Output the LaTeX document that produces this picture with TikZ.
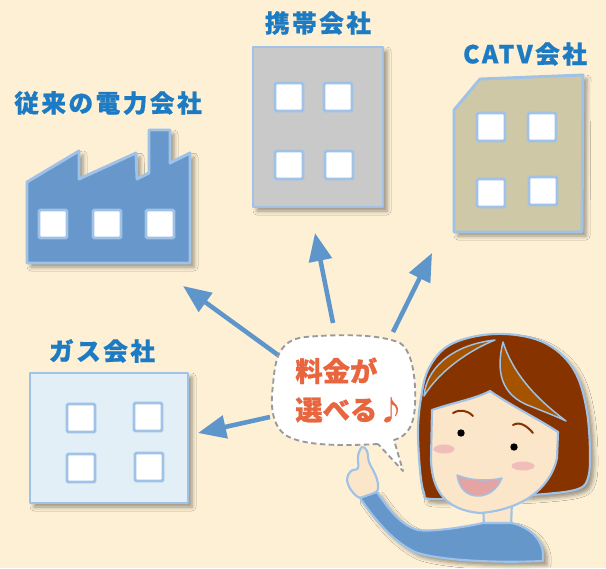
\documentclass[tikz,border=0pt]{standalone}
\usepackage{xcolor}
\usepackage{fontspec}
\newfontfamily\jpfont{Noto Sans CJK JP}[FakeBold=0.8]
\usetikzlibrary{arrows.meta,shadows.blur}
\definecolor{bgCream}{HTML}{FDF0D5}
\definecolor{nameBlue}{HTML}{1C7BC2}
\definecolor{edgeBlue}{HTML}{9FC2E6}
\definecolor{factoryBlue}{HTML}{6797CB}
\definecolor{mobileGray}{HTML}{C9C9C9}
\definecolor{catvKhaki}{HTML}{CFC8A7}
\definecolor{gasBlue}{HTML}{E2EFF6}
\definecolor{arrowBlue}{HTML}{5E96CB}
\definecolor{sloganRed}{HTML}{E8663F}
\definecolor{dashGray}{HTML}{9A9A9A}
\definecolor{hairBrown}{HTML}{873300}
\definecolor{hairLight}{HTML}{A65300}
\definecolor{skinTone}{HTML}{FBE6C9}
\definecolor{cheekPink}{HTML}{F0BDBA}
\definecolor{mouthPink}{HTML}{E4A4A3}
\definecolor{shirtBlue}{HTML}{6697CB}
\tikzset{
  softshadow/.style={
    blur shadow={shadow xshift=3pt, shadow yshift=-3pt,
      shadow blur radius=3pt, shadow opacity=40}
  },
  compname/.style={
    font=\jpfont\bfseries\fontsize{18.5}{20}\selectfont\addfontfeature{LetterSpace=10},
    text=nameBlue,
    inner sep=0pt
  },
  bldg/.style={draw=edgeBlue, line width=2.2pt, line join=round, softshadow},
  win/.style={
    rectangle,
    draw=edgeBlue,
    fill=white,
    line width=2.2pt,
    rounded corners=1pt,
    minimum size=21pt,
    inner sep=0pt
  },
  arrow/.style={-{Triangle[length=21pt,width=17pt]}, line width=3.4pt, draw=arrowBlue},
  bubble/.style={draw=dashGray, fill=white, line width=1.4pt, dash pattern=on 4pt off 2.6pt, line join=round},
  slogan/.style={
    font=\jpfont\bfseries\fontsize{20.5}{29}\selectfont,
    text=sloganRed,
    align=left,
    inner sep=0pt
  },
  outline/.style={draw=edgeBlue, line width=1.6pt, line join=round},
  thinline/.style={draw=edgeBlue, line width=1.1pt, line join=round},
  brow/.style={draw=hairBrown, line width=1.5pt, line cap=round}
}

\begin{document}
\begin{tikzpicture}[x=0.75pt,y=-0.75pt]
  \fill[bgCream] (0,0) rectangle (606,568);
  \useasboundingbox (0,0) rectangle (606,568);

  % arrows out of the speech bubble
  \coordinate (fromPower) at (278,355);
  \coordinate (toPower) at (183,286);
  \coordinate (fromMobile) at (333,323);
  \coordinate (toMobile) at (315,233);
  \coordinate (fromCatv) at (393,332);
  \coordinate (toCatv) at (432,253);
  \coordinate (fromGas) at (270,417);
  \coordinate (toGas) at (198,433);
  \draw[arrow] (fromPower) -- (toPower);
  \draw[arrow] (fromMobile) -- (toMobile);
  \draw[arrow] (fromCatv) -- (toCatv);
  \draw[arrow] (fromGas) -- (toGas);

  % power company factory
  \node[compname] (power) at (108,103) {従来の電力会社};
  \draw[bldg, fill=factoryBlue] (27,182) -- (79,151) -- (79,179) -- (136,153) -- (137,179)
    -- (149,173) -- (149,130) -- (170,130) -- (170,163) -- (190,153) -- (190,263) -- (27,263) -- cycle;
  \foreach \x [count=\i] in {53,107,160}
    \node[win] (pw\i) at (\x,224) {};

  % mobile company
  \node[compname] (mobile) at (318,23) {携帯会社};
  \draw[bldg, fill=mobileGray] (253,47) rectangle (383,207);
  \node[win] (mw1) at (289,97) {};
  \node[win] (mw2) at (338,97) {};
  \node[win] (mw3) at (289,165) {};
  \node[win] (mw4) at (339,165) {};

  % CATV company
  \node[compname] (catv) at (525,54) {CATV会社};
  \draw[bldg, fill=catvKhaki] (454,110) -- (480,79) -- (583,75) -- (582,232) -- (454,232) -- cycle;
  \node[win] (cw1) at (491,127) {};
  \node[win] (cw2) at (542,127) {};
  \node[win] (cw3) at (491,193) {};
  \node[win] (cw4) at (543,191) {};

  % gas company
  \node[compname] (gas) at (102,351) {ガス会社};
  \draw[bldg, fill=gasBlue] (30,373) rectangle (188,503);
  \node[win] (gw1) at (81,418) {};
  \node[win] (gw2) at (148,417) {};
  \node[win] (gw3) at (81,468) {};
  \node[win] (gw4) at (149,467) {};

  % speech bubble
  \draw[bubble] (378,444) .. controls (340,446) and (300,446) .. (284,434)
    .. controls (270,422) and (271,400) .. (273,385)
    .. controls (275,360) and (278,340) .. (305,337)
    .. controls (340,334) and (380,334) .. (400,343)
    .. controls (414,352) and (416,385) .. (415,405)
    .. controls (414,425) and (408,436) .. (394,440)
    -- (403,471) -- cycle;
  \node[slogan] (slogantext) at (350,390) {料金が\\選べる♪};

  % hair
  \draw[outline, fill=hairBrown, softshadow] plot[smooth cycle, tension=0.6] coordinates {
    (432,499) (424,493) (420,470) (418,430) (421,398) (428,370) (445,348) (472,337)
    (505,334) (538,340) (562,355) (578,378) (587,412) (590,452) (588,478) (578,489)
    (545,494) (490,497)};
  \draw[thinline, fill=hairLight] (424,396) .. controls (426,370) and (450,345) .. (495,340)
    .. controls (470,350) and (440,370) .. cycle;
  \draw[thinline, fill=hairLight] (503,342) .. controls (496,370) and (500,395) .. (530,406)
    .. controls (545,412) and (558,417) .. (566,421)
    .. controls (545,405) and (515,380) .. cycle;

  % neck, face
  \fill[skinTone] (483,500) rectangle (512,528);
  \draw[outline] (483,500) -- (484,528) (512,500) -- (511,528);
  \draw[outline, fill=skinTone] (432,410) .. controls (455,402) and (475,399) .. (490,391)
    .. controls (510,405) and (540,420) .. (558,432)
    -- (557,458) .. controls (550,490) and (520,510) .. (480,513)
    .. controls (445,510) and (432,490) .. (431,460) -- cycle;
  \draw[brow] (453,413) .. controls (460,409) and (467,410) .. (473,416);
  \draw[brow] (513,425) .. controls (520,421) and (527,426) .. (533,433);
  \fill (461,433) circle (3.7);
  \fill (514,447) circle (3.7);
  \fill[cheekPink] (444,449) ellipse [x radius=10.5, y radius=4.5];
  \fill[cheekPink] (523,466) ellipse [x radius=11.5, y radius=4.5];
  \draw[thinline, fill=mouthPink] (457,475) .. controls (472,481) and (490,481) .. (502,478)
    .. controls (497,490) and (488,496) .. (478,496)
    .. controls (466,496) and (459,488) .. cycle;

  % hand and shirt
  \draw[outline, fill=skinTone] plot[smooth cycle, tension=0.6] coordinates {
    (361,498) (351,490) (347,479) (351,471) (358,468) (358,456) (362,447) (367,451)
    (369,462) (375,474) (378,484) (376,492)};
  \draw[outline, fill=shirtBlue, softshadow] (360,498) .. controls (372,515) and (390,540) .. (415,552)
    .. controls (440,561) and (500,563) .. (543,561) -- (543,552)
    .. controls (541,540) and (532,528) .. (512,523) -- (483,523)
    .. controls (460,528) and (430,532) .. (418,530)
    .. controls (400,525) and (388,508) .. (377,492) -- cycle;
\end{tikzpicture}
\end{document}
